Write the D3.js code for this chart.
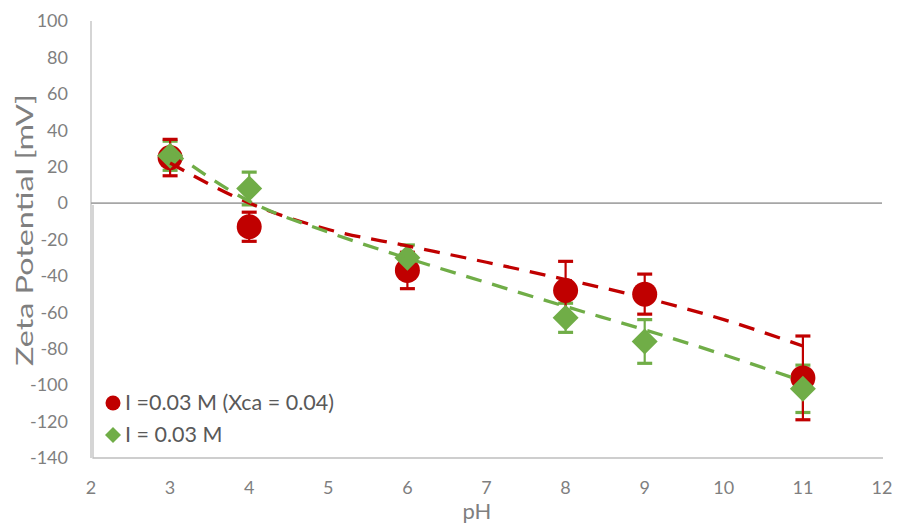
<!DOCTYPE html>
<html><head><meta charset="utf-8">
<script src="https://cdn.jsdelivr.net/npm/d3@7"></script>
<style>body{margin:0;background:#fff;} svg{display:block;font-family:Lato,"Open Sans",sans-serif;}</style>
</head><body>
<svg id="c" width="897" height="525"></svg>
<script>
const pH = [3, 4, 6, 8, 9, 11];
const redValues = [25, -13, -37, -48, -50, -96];
const redErrors = [10, 8, 10, 16, 11, 23];
const greenValues = [26, 8, -30, -63, -76, -102];
const greenErrors = [8, 9, 7, 8, 12, 13];
const trendPH = [3, 4, 5, 6, 7, 8, 9, 10, 11];
const redTrend = [22, 0, -14.5, -23.5, -32.5, -42, -52, -64, -78.5];
const greenTrend = [29, 1, -16, -30.3, -43.6, -56.8, -69.6, -83.3, -97.8];
const xTicks = [2, 3, 4, 5, 6, 7, 8, 9, 10, 11, 12];
const yTicks = [100, 80, 60, 40, 20, 0, -20, -40, -60, -80, -100, -120, -140];
const seriesNames = ["I =0.03 M (Xca = 0.04)", "I = 0.03 M"];

const RED = "#C00000", GREEN = "#70AD47", GRAY = "#7f7f7f";
const svg = d3.select("#c");
const x = d3.scaleLinear().domain([2, 12]).range([91, 882]);
const y = d3.scaleLinear().domain([-140, 100]).range([458, 21]);

// axes lines
svg.append("line").attr("x1", x(2)).attr("x2", x(2)).attr("y1", y(100)).attr("y2", y(-140))
  .attr("stroke", "#bfbfbf").attr("stroke-width", 1.3);
svg.append("line").attr("x1", x(2)).attr("x2", x(12)).attr("y1", y(0)).attr("y2", y(0))
  .attr("stroke", "#a6a6a6").attr("stroke-width", 1.6);
// legend box (left + bottom visible)
svg.append("path").attr("d", `M${x(2)+2},${y(0)+2}V${y(-140)}H${x(12)+1}`)
  .attr("fill", "none").attr("stroke", "#bfbfbf").attr("stroke-width", 1.3);

// y tick labels
svg.append("g").selectAll("text").data(yTicks).join("text")
  .attr("x", 68).attr("y", d => y(d)).attr("dy", "0.35em").attr("text-anchor", "end")
  .attr("font-size", 18).attr("fill", GRAY).text(d => d);
// x tick labels
svg.append("g").selectAll("text").data(xTicks).join("text")
  .attr("x", d => x(d)).attr("y", 494).attr("text-anchor", "middle")
  .attr("font-size", 18).attr("fill", GRAY).text(d => d);
// axis titles
svg.append("text").attr("x", 477).attr("y", 519).attr("text-anchor", "middle")
  .attr("font-size", 22).attr("fill", GRAY).text("pH");
svg.append("text").attr("transform", `translate(33,230) rotate(-90)`).attr("text-anchor", "middle")
  .attr("font-size", 23).attr("fill", GRAY)
  .attr("textLength", 272).attr("lengthAdjust", "spacingAndGlyphs").text("Zeta Potential [mV]");

function errorBars(vals, errs, color) {
  const g = svg.append("g").attr("stroke", color).attr("stroke-width", 2.2);
  pH.forEach((p, i) => {
    const cx = x(p), top = y(vals[i] + errs[i]), bot = y(vals[i] - errs[i]);
    g.append("line").attr("x1", cx).attr("x2", cx).attr("y1", top).attr("y2", bot);
    g.append("line").attr("x1", cx - 7.5).attr("x2", cx + 7.5).attr("y1", top).attr("y2", top).attr("stroke-width", 3.2);
    g.append("line").attr("x1", cx - 7.5).attr("x2", cx + 7.5).attr("y1", bot).attr("y2", bot).attr("stroke-width", 3.2);
  });
}
errorBars(greenValues, greenErrors, GREEN);
errorBars(redValues, redErrors, RED);

// markers
svg.append("g").selectAll("circle").data(pH).join("circle")
  .attr("cx", d => x(d)).attr("cy", (d, i) => y(redValues[i])).attr("r", 12.5).attr("fill", RED);
const diamond = s => `M0,${-s}L${s},0L0,${s}L${-s},0Z`;
svg.append("g").selectAll("path").data(pH).join("path")
  .attr("transform", (d, i) => `translate(${x(d)},${y(greenValues[i])})`)
  .attr("d", diamond(13)).attr("fill", GREEN);

// trendlines
const line = d3.line().curve(d3.curveMonotoneX);
svg.append("path").attr("d", line(trendPH.map((p, i) => [x(p), y(redTrend[i])])))
  .attr("fill", "none").attr("stroke", RED).attr("stroke-width", 3.3).attr("stroke-dasharray", "16,11");
svg.append("path").attr("d", line(trendPH.map((p, i) => [x(p), y(greenTrend[i])])))
  .attr("fill", "none").attr("stroke", GREEN).attr("stroke-width", 3.3).attr("stroke-dasharray", "16,11");

// legend
const lg = svg.append("g");
lg.append("circle").attr("cx", 113).attr("cy", 403).attr("r", 7.5).attr("fill", RED);
lg.append("path").attr("transform", "translate(113,435)").attr("d", diamond(8)).attr("fill", GREEN);
lg.append("text").attr("x", 125).attr("y", 410).attr("font-size", 21.5).attr("fill", "#595959").text(seriesNames[0]);
lg.append("text").attr("x", 125).attr("y", 442).attr("font-size", 21.5).attr("fill", "#595959").text(seriesNames[1]);
</script>
</body></html>
